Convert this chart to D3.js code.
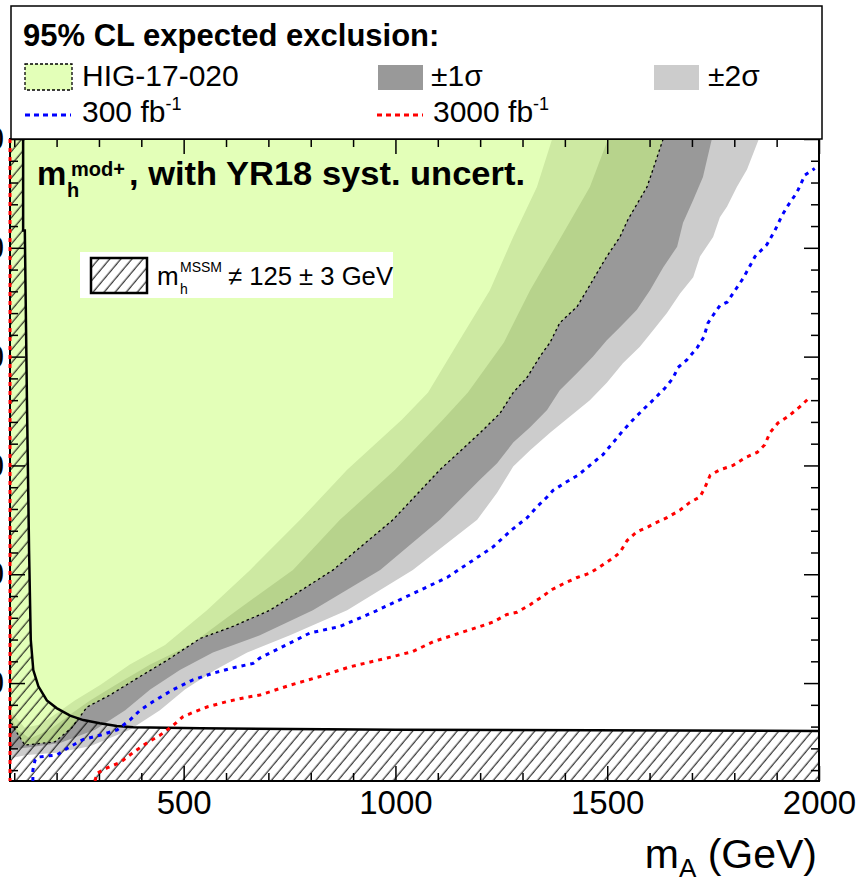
<!DOCTYPE html>
<html>
<head>
<meta charset="utf-8">
<script src="https://cdn.jsdelivr.net/npm/d3@7"></script>
<style>
  body { margin: 0; background: #fff; }
  text { font-family: "Liberation Sans", Arial, Helvetica, sans-serif; }
</style>
</head>
<body>
<svg id="chart" width="859" height="884"></svg>
<script>
// Axis ranges: m_A (GeV) and tan(beta)
const xDomain = [90, 2000];
const yDomain = [1, 60];
const xMajorTicks = [500, 1000, 1500, 2000];
const yMajorTicks = [10, 20, 30, 40, 50, 60];

// HIG-17-020 expected exclusion contour and its uncertainty band edges, [m_A, tanb]
const median = [[1632,60],[1608,57.2],[1594,55.6],[1549,52.6],[1530,51.0],[1499,49.2],[1476,47.7],[1452,46.1],
  [1429,44.6],[1388,43.1],[1365,41.3],[1341,40.0],[1311,38.1],[1278,36.7],[1247,34.8],[1200,33.0],[1105,29.6],
  [994,25.0],[853,20.4],[704,16.7],[616,15.2],[539,14.1],[461,12.1],[397,10.6],[326,8.9],[272,7.8],[236,5.9],
  [196,4.6],[125,4.3],[102,5.7],[90,6.6]];
const minus1 = [[1502,60],[1459,55.6],[1391,51.0],[1318,46.1],[1256,41.3],[1171,36.7],[1112,34.2],[999,29.6],
  [869,25.0],[758,20.4],[626,16.7],[515,13.5],[421,11.7],[338,9.8],[279,8.4],[232,7.1],[184,5.7],[137,4.9],
  [105,5.8],[90,7.2]];
const minus2 = [[1370,60],[1334,55.6],[1278,51.0],[1223,46.1],[1148,41.3],[1077,36.7],[1015,34.2],[886,29.6],
  [775,25.0],[657,20.4],[555,16.7],[456,13.5],[373,11.7],[302,9.8],[243,8.4],[196,7.1],[161,6.2],[125,5.9],
  [100,7.0],[90,7.8]];
const plus1 = [[1747,60],[1726,56.5],[1703,54.4],[1679,52.3],[1665,50.1],[1632,48.2],[1601,46.1],[1570,44.3],
  [1530,42.7],[1499,41.5],[1466,40.0],[1429,38.5],[1388,36.9],[1358,35.1],[1318,33.5],[1278,32.1],[1240,30.2],
  [1200,28.7],[1105,25.0],[964,20.4],[805,16.7],[680,14.4],[569,12.8],[491,11.2],[421,9.4],[362,7.5],[291,5.7],
  [208,4.5],[137,4.1],[90,3.9]];
const plus2 = [[1858,60],[1830,57.2],[1806,55.6],[1783,53.8],[1766,52.8],[1750,51.0],[1719,49.2],[1703,47.3],
  [1672,45.8],[1641,44.0],[1608,42.4],[1577,40.9],[1537,39.4],[1499,37.6],[1459,36.0],[1412,34.5],[1365,33.0],
  [1318,31.4],[1278,29.9],[1240,27.5],[1193,25.0],[1041,20.4],[886,16.7],[751,14.4],[650,12.8],[574,11.2],
  [503,9.4],[444,7.5],[373,5.7],[279,4.2],[200,3.6],[130,3.4],[90,3.1]];

// Projected expected exclusions
const proj300 = [[144,1.0],[144,2.0],[149,2.9],[156,3.2],[201,3.4],[225,4.0],[262,4.8],[302,5.2],[343,5.7],
  [373,6.6],[397,7.5],[428,8.3],[475,9.4],[522,10.3],[569,10.9],[616,11.4],[664,11.8],[680,12.3],[798,14.6],
  [869,15.2],[947,16.5],[1051,18.4],[1122,19.7],[1230,22.5],[1275,24.1],[1311,25.2],[1334,26.2],[1358,27.1],
  [1372,27.7],[1400,28.4],[1431,29.1],[1459,30.0],[1490,31.0],[1514,32.1],[1535,33.1],[1561,34.2],[1584,35.1],
  [1608,36.0],[1636,37.1],[1655,38.0],[1667,39.0],[1688,39.7],[1712,40.8],[1728,41.8],[1738,43.1],[1750,43.8],
  [1766,44.7],[1783,45.0],[1802,46.1],[1821,47.2],[1849,49.2],[1877,50.3],[1896,51.6],[1913,53.0],[1927,53.9],
  [1948,55.1],[1967,56.7],[1990,57.3]];
const proj3000Edge = [[90,60],[90,1]];
const proj3000 = [[291,1.0],[295,1.7],[319,2.2],[350,2.7],[380,3.6],[413,4.5],[444,5.2],[475,6.1],[498,6.9],
  [522,7.3],[555,7.8],[602,8.3],[650,8.7],[680,8.9],[751,9.8],[822,10.6],[893,11.5],[980,12.3],[1041,12.9],
  [1089,13.8],[1160,14.7],[1200,15.2],[1230,15.6],[1263,16.3],[1287,16.5],[1318,17.2],[1341,17.8],[1370,18.6],
  [1400,19.2],[1429,19.7],[1459,20.1],[1483,20.7],[1514,21.5],[1530,22.0],[1547,23.1],[1570,23.9],[1594,24.3],
  [1613,24.7],[1641,25.2],[1672,25.9],[1695,26.6],[1719,27.1],[1731,28.0],[1743,29.1],[1766,29.6],[1797,30.0],
  [1825,30.7],[1854,31.2],[1872,31.9],[1884,33.0],[1903,33.9],[1927,34.5],[1955,35.4],[1974,36.1]];

// Boundary of the region where m_h^MSSM differs from 125 +- 3 GeV
const hatchEdge = [[121,60],[121,51.6],[125,51.6],[130,36.0],[135,22.2],[139,14.0],[145,11.2],[157,9.7],
  [177,8.4],[200,7.7],[232,7.0],[263,6.6],[302,6.3],[342,6.05],[381,5.93],[540,5.84],[1000,5.72],[2000,5.6]];

const svg = d3.select("#chart");
const plot = { left: 10, right: 819, top: 139, bottom: 781 };
const x = d3.scaleLinear().domain(xDomain).range([plot.left, plot.right]);
const y = d3.scaleLinear().domain(yDomain).range([plot.bottom, plot.top]);
const line = d3.line().x(d => x(d[0])).y(d => y(d[1]));
const closed = pts => line(pts) + "Z";

const defs = svg.append("defs");
defs.append("clipPath").attr("id", "plotClip").append("rect")
  .attr("x", plot.left).attr("y", plot.top)
  .attr("width", plot.right - plot.left).attr("height", plot.bottom - plot.top);
defs.append("clipPath").attr("id", "lineClip").append("rect")
  .attr("x", plot.left - 3).attr("y", plot.top)
  .attr("width", plot.right - plot.left + 3).attr("height", plot.bottom - plot.top);
const pat = defs.append("pattern").attr("id", "hatch")
  .attr("patternUnits", "userSpaceOnUse").attr("width", 8.5).attr("height", 8.5)
  .attr("patternTransform", "rotate(40)");
pat.append("line").attr("x1", 4).attr("y1", -1).attr("x2", 4).attr("y2", 9.5)
  .attr("stroke", "#000").attr("stroke-width", 1);

const GREEN = "rgb(205,255,130)", GREEN_OP = 0.57;

// Plot area contents
const g = svg.append("g").attr("clip-path", "url(#plotClip)");
g.append("rect").attr("x", plot.left).attr("y", plot.top)
  .attr("width", plot.right - plot.left).attr("height", plot.bottom - plot.top).attr("fill", "#fff");
g.append("path").attr("d", closed(plus2.concat(minus2.slice().reverse()))).attr("fill", "#cccccc");
g.append("path").attr("d", closed(plus1.concat(minus1.slice().reverse()))).attr("fill", "#999999");
g.append("path").attr("d", closed(median.concat([[xDomain[0], yDomain[1]]])))
  .attr("fill", GREEN).attr("fill-opacity", GREEN_OP);
g.append("path").attr("d", line(median)).attr("fill", "none")
  .attr("stroke", "#000").attr("stroke-width", 1.3).attr("stroke-dasharray", "2.5,3");

const hatchPoly = [[xDomain[0], yDomain[1]]].concat(hatchEdge,
  [[xDomain[1], yDomain[0]], [xDomain[0], yDomain[0]]]);
g.append("path").attr("d", closed(hatchPoly)).attr("fill", "url(#hatch)");
g.append("path").attr("d", line(hatchEdge)).attr("fill", "none")
  .attr("stroke", "#000").attr("stroke-width", 2.5);

// Frame and axes
svg.append("rect").attr("x", plot.left).attr("y", plot.top)
  .attr("width", plot.right - plot.left).attr("height", plot.bottom - plot.top)
  .attr("fill", "none").attr("stroke", "#000").attr("stroke-width", 2);

const xMinor = d3.range(100, 2001, 100).filter(v => !xMajorTicks.includes(v));
const yMinor = d3.range(2, 60, 2).filter(v => !yMajorTicks.includes(v));
function styleAxis(sel) {
  sel.select(".domain").remove();
  sel.selectAll(".tick line").attr("stroke", "#000").attr("stroke-width", 1.5);
  sel.attr("font-family", "Liberation Sans, Arial, sans-serif").attr("font-size", 33);
  sel.selectAll(".tick text").attr("fill", "#000");
}
svg.append("g").attr("transform", `translate(0,${plot.bottom})`)
  .call(d3.axisBottom(x).tickValues(xMajorTicks).tickSize(-15).tickSizeOuter(0).tickPadding(10).tickFormat(d3.format("d")))
  .call(styleAxis);
svg.append("g").attr("transform", `translate(0,${plot.bottom})`)
  .call(d3.axisBottom(x).tickValues(xMinor).tickSize(-8).tickSizeOuter(0).tickFormat("")).call(styleAxis);
svg.append("g").attr("transform", `translate(0,${plot.top})`)
  .call(d3.axisTop(x).tickValues(xMajorTicks).tickSize(-15).tickSizeOuter(0).tickFormat("")).call(styleAxis);
svg.append("g").attr("transform", `translate(0,${plot.top})`)
  .call(d3.axisTop(x).tickValues(xMinor).tickSize(-8).tickSizeOuter(0).tickFormat("")).call(styleAxis);
svg.append("g").attr("transform", `translate(${plot.left},0)`)
  .call(d3.axisLeft(y).tickValues(yMajorTicks).tickSize(-15).tickSizeOuter(0).tickPadding(6).tickFormat(d3.format("d")))
  .call(styleAxis);
svg.append("g").attr("transform", `translate(${plot.left},0)`)
  .call(d3.axisLeft(y).tickValues(yMinor).tickSize(-8).tickSizeOuter(0).tickFormat("")).call(styleAxis);
svg.append("g").attr("transform", `translate(${plot.right},0)`)
  .call(d3.axisRight(y).tickValues(yMajorTicks).tickSize(-15).tickSizeOuter(0).tickFormat("")).call(styleAxis);
svg.append("g").attr("transform", `translate(${plot.right},0)`)
  .call(d3.axisRight(y).tickValues(yMinor).tickSize(-8).tickSizeOuter(0).tickFormat("")).call(styleAxis);

// Projection contours
const lg = svg.append("g").attr("clip-path", "url(#lineClip)");
const BLUE = "#0000ff", RED = "#ff0000";
lg.append("path").attr("d", line(proj300)).attr("fill", "none")
  .attr("stroke", BLUE).attr("stroke-width", 3).attr("stroke-dasharray", "4,5");
[proj3000Edge, proj3000].forEach(seg => lg.append("path").attr("d", line(seg)).attr("fill", "none")
  .attr("stroke", RED).attr("stroke-width", 3).attr("stroke-dasharray", "4,5"));

// Scenario label
svg.append("text").attr("x", 37).attr("y", 185).attr("font-size", 33).attr("font-weight", "bold").text("m");
svg.append("text").attr("x", 71).attr("y", 176).attr("font-size", 20).attr("font-weight", "bold").text("mod+");
svg.append("text").attr("x", 67).attr("y", 197).attr("font-size", 20).attr("font-weight", "bold").text("h");
svg.append("text").attr("x", 129).attr("y", 185).attr("font-size", 34).attr("font-weight", "bold")
  .attr("textLength", 396).attr("lengthAdjust", "spacingAndGlyphs")
  .text(", with YR18 syst. uncert.");

// Inner legend for the hatched region
svg.append("rect").attr("x", 80).attr("y", 252).attr("width", 313).attr("height", 46).attr("fill", "#fff");
svg.append("rect").attr("x", 91).attr("y", 258).attr("width", 56).attr("height", 35)
  .attr("fill", "url(#hatch)").attr("stroke", "#000").attr("stroke-width", 2.5);
svg.append("text").attr("x", 157).attr("y", 285).attr("font-size", 26).text("m");
svg.append("text").attr("x", 180).attr("y", 272).attr("font-size", 14).text("MSSM");
svg.append("text").attr("x", 180).attr("y", 294).attr("font-size", 14).text("h");
svg.append("text").attr("x", 228).attr("y", 285).attr("font-size", 26)
  .attr("textLength", 165).attr("lengthAdjust", "spacingAndGlyphs")
  .text("\u2260 125 \u00b1 3 GeV");

// Axis title
const xt = svg.append("text").attr("x", 817).attr("y", 868).attr("text-anchor", "end").attr("font-size", 41);
xt.append("tspan").text("m");
xt.append("tspan").attr("dy", 9).attr("font-size", 26).text("A");
xt.append("tspan").attr("dy", -9).text(" (GeV)");

// Legend box
const leg = svg.append("g");
leg.append("rect").attr("x", 11).attr("y", 6).attr("width", 811).attr("height", 133)
  .attr("fill", "#fff").attr("stroke", "#000").attr("stroke-width", 1.5);
leg.append("text").attr("x", 23).attr("y", 46).attr("font-size", 31).attr("font-weight", "bold")
  .text("95% CL expected exclusion:");
leg.append("rect").attr("x", 25).attr("y", 64).attr("width", 47).attr("height", 26).attr("fill", "#fff");
leg.append("rect").attr("x", 25).attr("y", 64).attr("width", 47).attr("height", 26)
  .attr("fill", GREEN).attr("fill-opacity", GREEN_OP)
  .attr("stroke", "#000").attr("stroke-width", 1.3).attr("stroke-dasharray", "3,2");
leg.append("text").attr("x", 82).attr("y", 86).attr("font-size", 30).text("HIG-17-020");
leg.append("rect").attr("x", 378).attr("y", 65).attr("width", 45).attr("height", 25).attr("fill", "#999999");
leg.append("text").attr("x", 431).attr("y", 86).attr("font-size", 30).text("\u00b11\u03c3");
leg.append("rect").attr("x", 654).attr("y", 65).attr("width", 45).attr("height", 25).attr("fill", "#cccccc");
leg.append("text").attr("x", 708).attr("y", 86).attr("font-size", 30).text("\u00b12\u03c3");
leg.append("line").attr("x1", 25).attr("x2", 71).attr("y1", 115).attr("y2", 115)
  .attr("stroke", BLUE).attr("stroke-width", 3).attr("stroke-dasharray", "5,4");
const t300 = leg.append("text").attr("x", 82).attr("y", 122).attr("font-size", 30);
t300.append("tspan").text("300 fb");
t300.append("tspan").attr("dy", -12).attr("font-size", 18).text("-1");
leg.append("line").attr("x1", 377).attr("x2", 423).attr("y1", 115).attr("y2", 115)
  .attr("stroke", RED).attr("stroke-width", 3).attr("stroke-dasharray", "5,4");
const t3000 = leg.append("text").attr("x", 433).attr("y", 122).attr("font-size", 30);
t3000.append("tspan").text("3000 fb");
t3000.append("tspan").attr("dy", -12).attr("font-size", 18).text("-1");
</script>
</body>
</html>
